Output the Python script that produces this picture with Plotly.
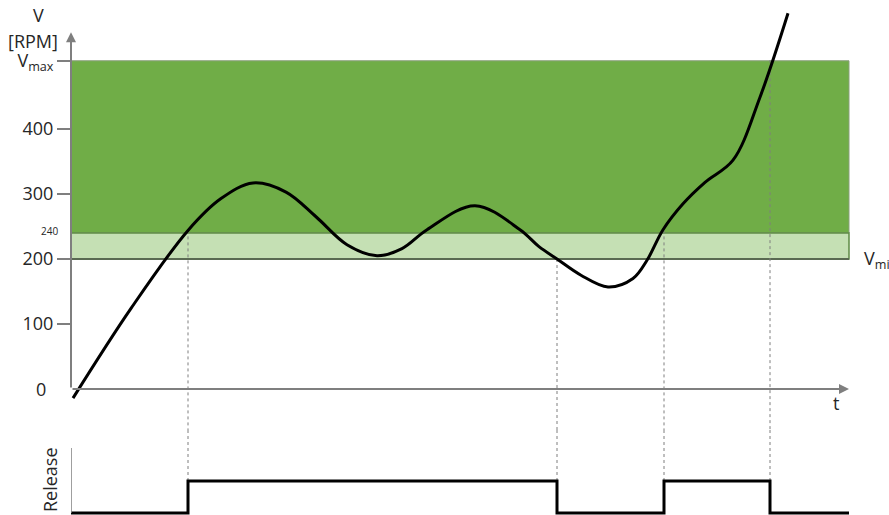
import plotly.graph_objects as go

# ---- data ----
t_curve = [2, 60, 117, 150, 182, 215, 245, 276, 306, 331, 356, 404, 449, 468, 486,
           510, 537, 562, 576, 592, 612, 634, 662, 689, 717]
v_curve = [-14, 124, 244, 293, 317, 303, 265, 222, 205, 216, 245, 282, 245, 219, 200,
           175, 157, 170, 198, 245, 285, 318, 352, 449, 578]

t_cross = [117, 486, 593, 699]
v_cross = [244, 200, 244, 506]

release_t = [0, 117, 486, 593, 699, 778]
release_v = [0, 1, 0, 1, 0, 0]

V_MIN = 200
V_LOW = 240
V_MAX = 505
T_END = 778
Y_TOP = 549

y_ticks = [100, 200, 300, 400, V_MAX]
y_ticktext = ["100", "200", "300", "400", "V<sub>max</sub>"]

# ---- axis ranges ----
Y1_RANGE = [-63.1, 598.5]
Y2_RANGE = [-0.0625, 2.594]
X_RANGE = [0, 818]

GRAY = "#7f7f7f"
TXT = "#262626"
FONT = "Open Sans"

fig = go.Figure()

# dashed guide lines
for tc, vc in zip(t_cross, v_cross):
    fig.add_trace(go.Scatter(x=[tc, tc], y=[vc, Y1_RANGE[0]], mode="lines",
                             line=dict(color=GRAY, width=1, dash="dot"),
                             hoverinfo="skip", showlegend=False, yaxis="y"))
    fig.add_trace(go.Scatter(x=[tc, tc], y=[Y2_RANGE[1], 0], mode="lines",
                             line=dict(color=GRAY, width=1, dash="dot"),
                             hoverinfo="skip", showlegend=False, yaxis="y2"))

# speed curve
fig.add_trace(go.Scatter(x=t_curve, y=v_curve, mode="lines",
                         line=dict(color="black", width=3, shape="spline", smoothing=1.0),
                         showlegend=False, yaxis="y"))

# release signal
fig.add_trace(go.Scatter(x=release_t, y=release_v, mode="lines",
                         line=dict(color="black", width=3, shape="hv"),
                         showlegend=False, yaxis="y2"))

shapes = [
    dict(type="rect", xref="x", yref="y", x0=0, x1=T_END, y0=V_LOW, y1=V_MAX,
         fillcolor="#70AD47", line=dict(color="#8a9f7c", width=1), layer="below"),
    dict(type="rect", xref="x", yref="y", x0=0, x1=T_END, y0=V_MIN, y1=V_LOW,
         fillcolor="#C5E0B4", line=dict(color="#5f8a45", width=1.5), layer="below"),
    dict(type="line", xref="x", yref="y", x0=0, x1=T_END, y0=V_MIN, y1=V_MIN,
         line=dict(color="#5a6a52", width=2), layer="below"),
    # release axis line
    dict(type="line", xref="x", yref="y2", x0=0, x1=0, y0=0, y1=2.03,
         line=dict(color=GRAY, width=1.5)),
]


def label(x, y, text, size=18, xref="paper", yref="paper", xanchor="center", angle=0):
    return dict(x=x, y=y, xref=xref, yref=yref, text=text, showarrow=False,
                xanchor=xanchor, yanchor="middle", textangle=angle,
                font=dict(size=size, color=TXT, family=FONT))


annotations = [
    # y axis arrow
    dict(x=0, y=Y_TOP, ax=0, ay=0, xref="x", yref="y", axref="x", ayref="y",
         text="", showarrow=True, arrowhead=2, arrowsize=1, arrowwidth=2, arrowcolor=GRAY),
    # x axis arrow
    dict(x=T_END, y=0, ax=0, ay=0, xref="x", yref="y", axref="x", ayref="y",
         text="", showarrow=True, arrowhead=2, arrowsize=1, arrowwidth=2, arrowcolor=GRAY),
    label(38 / 889, 1 - 15 / 515, "V"),
    label(33 / 889, 1 - 41 / 515, "[RPM]"),
    label(41 / 889, 0, "0", yref="y"),
    label(49 / 889, V_LOW + 3, "240", size=10, yref="y"),
    label(862 / 889, V_MIN, "V<sub>min</sub>", yref="y", xanchor="left"),
    label(836 / 889, 1 - 403 / 515, "t"),
    label(50 / 889, 1 - 480 / 515, "Release", angle=-90),
]

fig.update_layout(
    width=889, height=515,
    margin=dict(l=0, r=0, t=0, b=0),
    paper_bgcolor="white", plot_bgcolor="white",
    font=dict(family=FONT, color=TXT),
    shapes=shapes, annotations=annotations,
    xaxis=dict(domain=[71 / 889, 1], range=X_RANGE, showline=False, showgrid=False,
               zeroline=False, showticklabels=False, ticks=""),
    yaxis=dict(domain=[1 - 430 / 515, 1], range=Y1_RANGE, showline=False, showgrid=False,
               zeroline=False, tickvals=y_ticks, ticktext=y_ticktext, ticks="outside",
               ticklen=13, tickwidth=2, tickcolor=GRAY,
               tickfont=dict(size=18, color=TXT, family=FONT)),
    yaxis2=dict(domain=[0, 1 - 430 / 515], range=Y2_RANGE, anchor="x", showline=False,
                showgrid=False, zeroline=False, showticklabels=False, ticks=""),
)

fig.write_html("out.html", config={"displayModeBar": False},
               post_script="document.body.style.margin='0';document.body.style.overflow='hidden';")
